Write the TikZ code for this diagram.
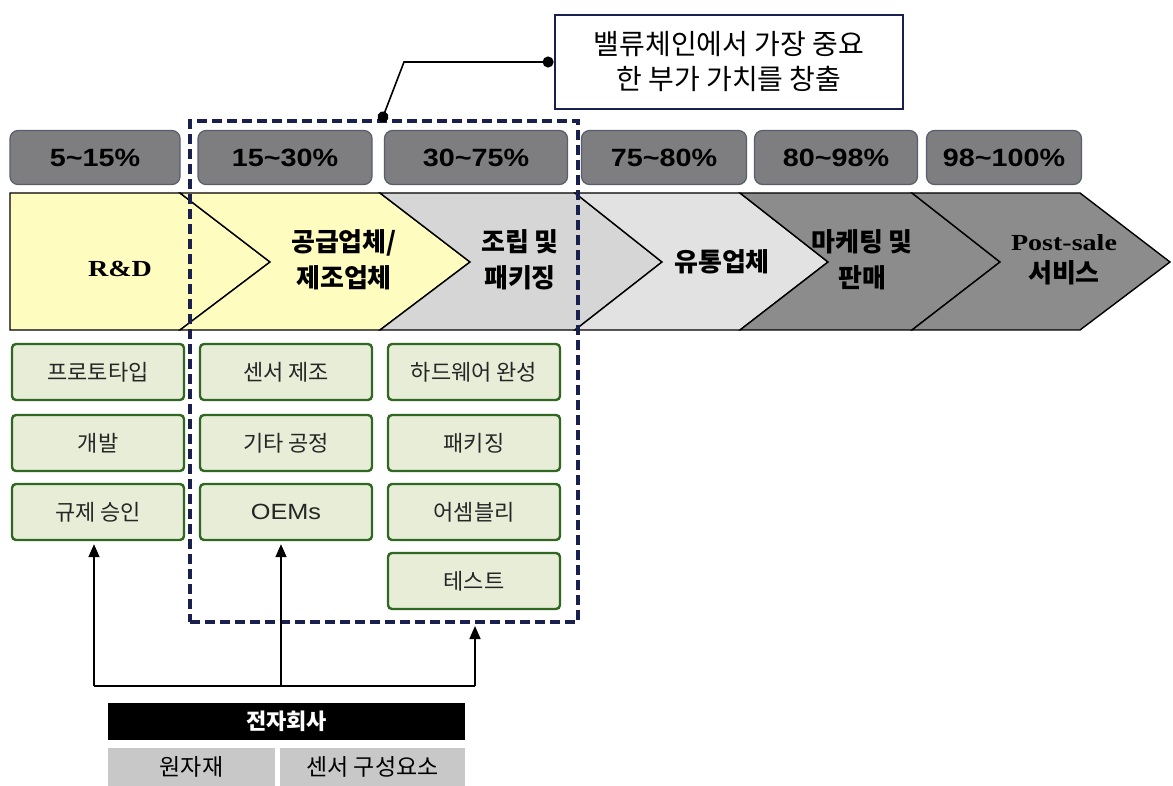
\documentclass[tikz,border=0pt]{standalone}
\usepackage{fontspec}
\setmainfont{Noto Sans CJK KR}
\newfontfamily\arialf{Liberation Sans}[FakeStretch=1.15]
\newfontfamily\seriff{Liberation Serif}[FakeStretch=1.22]
\usetikzlibrary{arrows.meta}
\definecolor{chyel}{RGB}{255,252,192}
\definecolor{chgray}{RGB}{214,214,214}
\definecolor{chlight}{RGB}{226,226,226}
\definecolor{chdark}{RGB}{140,140,140}
\definecolor{pctfill}{RGB}{126,126,128}
\definecolor{pctdraw}{RGB}{88,94,110}
\definecolor{gfill}{RGB}{232,237,216}
\definecolor{gdraw}{RGB}{48,104,34}
\definecolor{navy}{RGB}{26,32,78}
\definecolor{botgray}{RGB}{200,200,200}
\begin{document}
\begin{tikzpicture}[x=1pt,y=-1pt,
  pct/.style={draw=pctdraw,line width=1.2pt,fill=pctfill,rounded corners=8pt,
    minimum height=54pt,inner sep=0pt,text depth=0pt,
    font=\arialf\bfseries\fontsize{25}{28}\selectfont},
  chev/.style={draw=black,line width=1.4pt,line join=miter},
  chtext/.style={align=center,font=\bfseries\fontsize{26}{36}\selectfont},
  gbox/.style={draw=gdraw,line width=2.4pt,fill=gfill,rounded corners=4pt,
    minimum width=172pt,minimum height=56pt,inner sep=0pt,
    font=\fontsize{22}{24}\selectfont,text=black!85},
  arr/.style={line width=1.6pt,-{Triangle[length=13pt,width=11pt]}},
  dot/.style={line width=1.6pt,{Circle[length=11pt]}-{Circle[length=11pt]}}
]
\useasboundingbox (0,0) rectangle (1173,786);
\fill[white] (0,0) rectangle (1173,786);

% percent boxes
\node[pct,minimum width=170pt] (p1) at (95,157.5) {5\textasciitilde15\%};
\node[pct,minimum width=174pt] (p2) at (285,157.5) {15\textasciitilde30\%};
\node[pct,minimum width=183pt] (p3) at (476,157.5) {30\textasciitilde75\%};
\node[pct,minimum width=165pt] (p4) at (664,157.5) {75\textasciitilde80\%};
\node[pct,minimum width=163pt] (p5) at (836,157.5) {80\textasciitilde98\%};
\node[pct,minimum width=155pt] (p6) at (1004,157.5) {98\textasciitilde100\%};

% chevrons
\draw[chev,fill=chyel] (10,193) -- (180,193) -- (270,262) -- (180,330) -- (10,330) -- cycle;
\draw[chev,fill=chyel] (180,193) -- (380,193) -- (470,262) -- (380,330) -- (180,330) -- (270,262) -- cycle;
\draw[chev,fill=chgray] (380,193) -- (575,193) -- (662,262) -- (575,330) -- (380,330) -- (470,262) -- cycle;
\draw[chev,fill=chlight] (575,193) -- (740,193) -- (828,262) -- (740,330) -- (575,330) -- (662,262) -- cycle;
\draw[chev,fill=chdark] (740,193) -- (912,193) -- (1000,262) -- (912,330) -- (740,330) -- (828,262) -- cycle;
\draw[chev,fill=chdark] (912,193) -- (1080,193) -- (1170,262) -- (1080,330) -- (912,330) -- (1000,262) -- cycle;

\node[font=\seriff\bfseries\fontsize{23}{26}\selectfont] (rd) at (120,269) {R\&D};
\node[chtext] (c2) at (344,260) {공급업체/\\제조업체};
\node[chtext] (c3) at (520,260) {조립 및\\패키징};
\node[chtext] (c4) at (722,262) {유통업체};
\node[chtext] (c5) at (862,260) {마케팅 및\\판매};
\node[chtext,font=\bfseries\fontsize{26}{32}\selectfont] (c6) at (1064,260)
  {{\seriff\bfseries\fontsize{23}{26}\selectfont Post-sale}\\서비스};

% green boxes
\node[gbox] (g11) at (98,372) {프로토타입};
\node[gbox] (g12) at (98,443) {개발};
\node[gbox] (g13) at (98,512) {규제 승인};
\node[gbox] (g21) at (286,372) {센서 제조};
\node[gbox] (g22) at (286,443) {기타 공정};
\node[gbox] (g23) at (286,512) {\arialf OEMs};
\node[gbox] (g31) at (474,372) {하드웨어 완성};
\node[gbox] (g32) at (474,443) {패키징};
\node[gbox] (g33) at (474,512) {어셈블리};
\node[gbox] (g34) at (474,581) {테스트};

% dashed focus box
\node[draw=navy,line width=3.5pt,dash pattern=on 10pt off 5pt,minimum width=388pt,
  minimum height=501pt,inner sep=0pt] (focus) at (384,371.5) {};

% callout
\node[draw=navy,line width=2.8pt,fill=white,minimum width=348pt,minimum height=94pt,
  align=center,font=\fontsize{28}{35}\selectfont] (note) at (729,62)
  {밸류체인에서 가장 중요\\한 부가 가치를 창출};
\coordinate (cbend) at (404,62);
\coordinate (cdot) at (381,122);
\draw[dot] (note.west) -- (cbend) -- (cdot);

% bottom
\node[fill=black,text=white,minimum width=357pt,minimum height=37pt,inner sep=0pt,
  font=\bfseries\fontsize{22}{24}\selectfont] (elec) at (286.5,721.5) {전자회사};
\node[fill=botgray,minimum width=167pt,minimum height=38pt,inner sep=0pt,
  font=\fontsize{23}{24}\selectfont] (raw) at (191.5,767) {원자재};
\node[fill=botgray,minimum width=185pt,minimum height=38pt,inner sep=0pt,
  font=\fontsize{23}{24}\selectfont] (sens) at (372.5,767) {센서 구성요소};

\coordinate (j1) at (94,686);
\coordinate (j2) at (281,686);
\coordinate (j3) at (475,686);
\coordinate (t3) at (475,626);
\draw[line width=1.6pt] (j1) -- (j3);
\draw[arr,shorten >=3pt] (j1) -- (j1 |- g13.south);
\draw[arr,shorten >=3pt] (j2) -- (j2 |- g23.south);
\draw[arr] (j3) -- (t3);
\end{tikzpicture}
\end{document}
